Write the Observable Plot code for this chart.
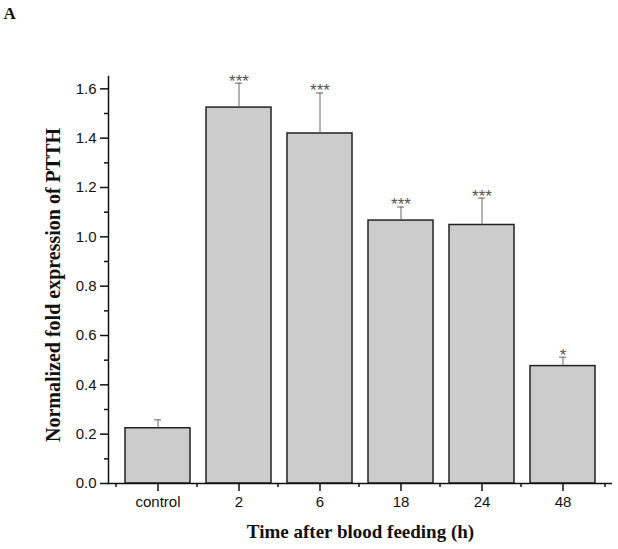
<!DOCTYPE html>
<html>
<head>
<meta charset="utf-8">
<script src="https://cdn.jsdelivr.net/npm/d3@7"></script>
<script src="https://cdn.jsdelivr.net/npm/@observablehq/plot@0.6"></script>
<style>
  html, body { margin: 0; padding: 0; background: #fff; }
</style>
</head>
<body>
<div id="chart"></div>
<script>
const categories = ["control", "2", "6", "18", "24", "48"];
const means = [0.224, 1.524, 1.419, 1.066, 1.048, 0.476];
const errUpper = [0.258, 1.623, 1.583, 1.121, 1.157, 0.512];
const significance = ["", "***", "***", "***", "***", "*"];
const yMajorTicks = [0, 0.2, 0.4, 0.6, 0.8, 1.0, 1.2, 1.4, 1.6];
const yMinorTicks = [0.1, 0.3, 0.5, 0.7, 0.9, 1.1, 1.3, 1.5];
const xTitle = "Time after blood feeding (h)";
const yTitle = "Normalized fold expression of PTTH";
const panelLabel = "A";

const data = categories.map((c, i) => ({cat: c, value: means[i], upper: errUpper[i], sig: significance[i]}));

const W = 618, H = 549, mL = 108, mR = 6, mT = 76, mB = 66;
const step = (W - mL - mR) / categories.length;

const serif = "'Liberation Serif', 'Times New Roman', Times, serif";

const chart = Plot.plot({
  width: W,
  height: H,
  marginLeft: mL,
  marginRight: mR,
  marginTop: mT,
  marginBottom: mB,
  style: {fontFamily: "'Liberation Sans', Arial, sans-serif", fontSize: "15px", color: "#111", background: "#fff"},
  x: {type: "band", domain: categories, padding: 0.2, label: null},
  y: {domain: [0, 1.65], label: null},
  marks: [
    Plot.barY(data, {x: "cat", y: "value", fill: "#cccccc", stroke: "#222", strokeWidth: 1.5}),
    Plot.ruleX(data, {x: "cat", y1: "value", y2: "upper", stroke: "#666", strokeWidth: 1}),
    Plot.tickY(data, {x: "cat", y: "upper", stroke: "#666", strokeWidth: 1, insetLeft: 29, insetRight: 29}),
    Plot.text(data, {x: "cat", y: "upper", text: "sig", fill: "#555", fontSize: 17, lineAnchor: "middle", dy: -2}),
    Plot.ruleY([0], {stroke: "#111", strokeWidth: 1.5}),
    Plot.frame({anchor: "left", stroke: "#111", strokeWidth: 1.5}),
    Plot.axisY({ticks: yMajorTicks, tickSize: 8, tickPadding: 4, tickFormat: d3.format(".1f"), fontSize: 15, stroke: "#111", strokeWidth: 1.5, label: null}),
    Plot.axisY({ticks: yMinorTicks, tickSize: 4, text: null, stroke: "#111", strokeWidth: 1.5, label: null}),
    Plot.axisX({tickSize: 8, tickPadding: 5, fontSize: 15, stroke: "#111", strokeWidth: 1.5, label: null}),
    Plot.axisX({ticks: categories, tickSize: 4, text: null, dx: -step / 2, stroke: "#111", strokeWidth: 1.5, label: null}),
    Plot.axisX({ticks: [categories[categories.length - 1]], tickSize: 4, text: null, dx: step / 2, stroke: "#111", strokeWidth: 1.5, label: null}),
    Plot.text([xTitle], {frameAnchor: "bottom", text: d => d, dy: 48, lineAnchor: "middle", fontFamily: serif, fontWeight: "bold", fontSize: 19, fill: "#111"}),
    Plot.text([yTitle], {frameAnchor: "left", text: d => d, rotate: -90, textAnchor: "middle", dx: -55, dy: 5, lineAnchor: "middle", fontFamily: serif, fontWeight: "bold", fontSize: 20, fill: "#111"}),
    Plot.text([panelLabel], {frameAnchor: "top-left", text: d => d, dx: -105, dy: -58, textAnchor: "start", lineAnchor: "bottom", fontFamily: serif, fontWeight: "bold", fontSize: 17, fill: "#111"})
  ]
});

document.getElementById("chart").appendChild(chart);
</script>
</body>
</html>
